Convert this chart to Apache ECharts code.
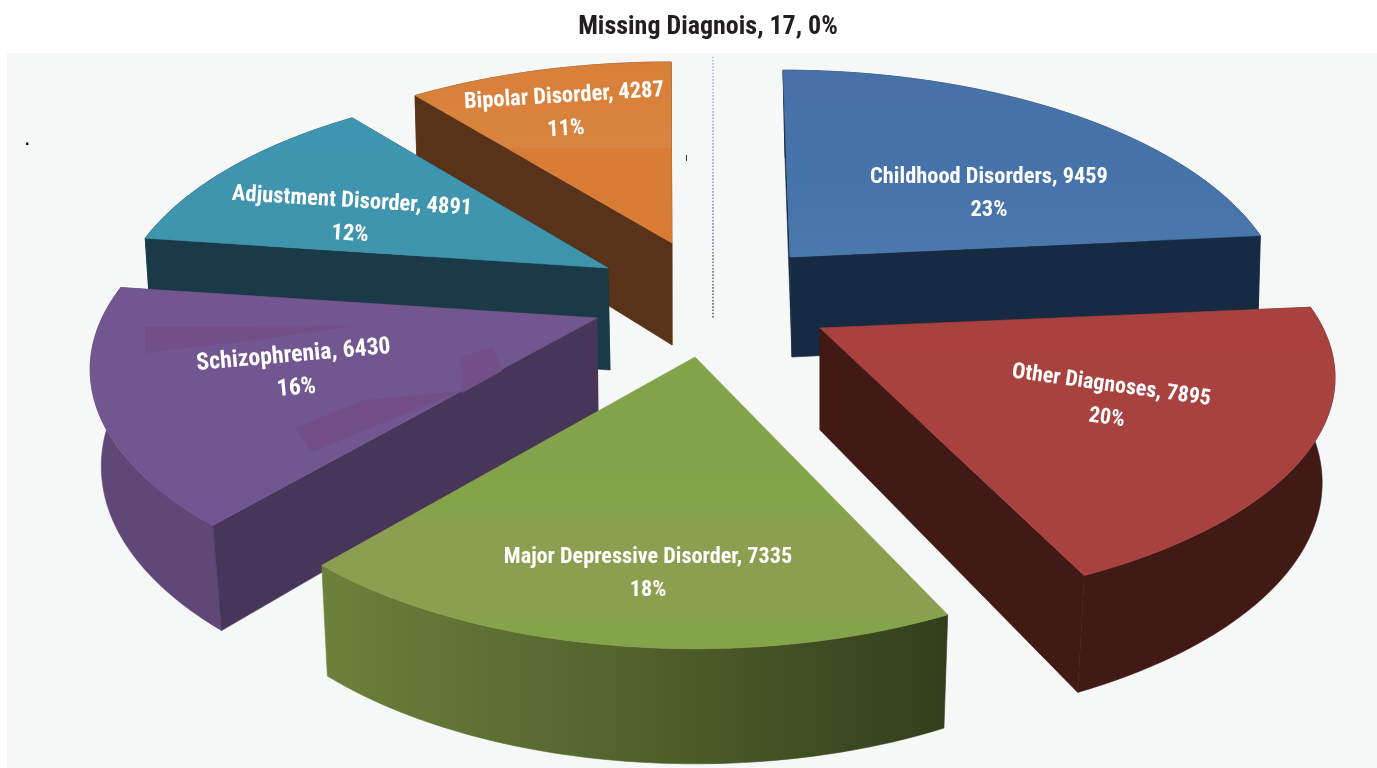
<!DOCTYPE html>
<html>
<head>
<meta charset="utf-8">
<style>html,body{margin:0;padding:0;background:#fff}#c{width:1377px;height:768px}</style>
<script src="https://cdn.jsdelivr.net/npm/echarts@6/dist/echarts.min.js"></script>
</head>
<body>
<div id="c"></div>
<script>
// Data
const categories = ['Childhood Disorders','Other Diagnoses','Major Depressive Disorder','Schizophrenia','Adjustment Disorder','Bipolar Disorder','Missing Diagnois'];
const seriesValues = [9459,7895,7335,6430,4891,4287,17];

// Geometry of each exploded slice (apex, radii, extrusion depth, shear), separate from the data
const K = 0.215, KD = 0.14;
const sliceGeom = [
  {ax:790,ay:257,R:483,S:227,D:100,sh:-7,bx:2},
  {ax:820,ay:328,R:503,S:220,D:102,sh:0,bx:0,rb:0.975},
  {ax:695,ay:357,R:481,S:229,D:99,sh:0,bx:0,rb:0.985},
  {ax:597,ay:318,R:495,S:228,D:94,sh:0,bx:1,rb:0.98},
  {ax:608,ay:268,R:481,S:224,D:102,sh:0,bx:2},
  {ax:672,ay:243,R:483,S:220,D:102,sh:0,bx:0},
  {ax:713,ay:218,R:480,S:196,D:100,sh:0,bx:0}
];
const sliceStyle = [
  {top:[[0,'#4672a8'],[0.62,'#4673a9'],[1,'#4a79ae']],rim:'#172a43',face:'#172a43',z:2},
  {top:[[0,'#a9423f'],[1,'#a8423f']],rim:'#411a16',face:'#411a16',z:5},
  {top:[[0,'#83a34a'],[0.52,'#84a44a'],[0.6,'#8c9f50'],[0.85,'#8c9f50'],[0.92,'#84a44a'],[1,'#84a44a']],
   rim:[[0,'#6c813b'],[0.5,'#51622c'],[1,'#323e1b']],face:null,z:6},
  {top:[[0,'#735690'],[1,'#705690']],rim:'#5f4877',face:'#47365a',z:4},
  {top:[[0,'#3f96b0'],[1,'#3f94ad']],rim:'#193a46',face:'#193a46',z:3},
  {top:[[0,'#d97f38'],[0.47,'#d8853f'],[0.48,'#d97c35'],[1,'#d97c35']],rim:'#59321a',face:'#59321a',z:1}
];
const labelLayout = [
  {x:989,y:194,rot:0,size:22.4},
  {x:1109,y:402,rot:-8,size:22},
  {x:648,y:574,rot:0,size:22.2},
  {x:295,y:372,rot:5,size:23.8},
  {x:351,y:218,rot:-3.5,size:22.6},
  {x:565,y:113,rot:3.5,size:22.5}
];

const total = seriesValues.reduce((a,b)=>a+b,0);
const startAngles = [];
seriesValues.reduce((acc,v,i)=>{startAngles[i]=acc;return acc+v/total*Math.PI*2;},0);

function topPt(g,t,r){
  const u=Math.sin(t)*r, v=Math.cos(t)*r, d=1+K*v;
  return [g.ax+g.R*u/d+g.sh*v, g.ay-g.S*v/d];
}
function botPt(g,t,r){
  const u=Math.sin(t)*r, v=Math.cos(t)*r, d=1+K*v, rb=g.rb||0.99;
  return [g.ax+g.bx+g.R*rb*u/d+g.sh*v, g.ay+g.D/(1+KD*v)-g.S*v/d];
}
const lin=(stops,x,y,x2,y2)=>new echarts.graphic.LinearGradient(x,y,x2,y2,stops.map(s=>({offset:s[0],color:s[1]})));

function renderSlice(params,api){
  const i=params.dataIndex, val=api.value(0);
  const g=sliceGeom[i], t0=startAngles[i], t1=t0+val/total*Math.PI*2;
  if(i===6){
    const a=topPt(g,t1,1), b=botPt(g,t1,0);
    return {type:'line',shape:{x1:a[0],y1:a[1],x2:b[0],y2:b[1]},
      style:{stroke:lin([[0,'#b4c2e2'],[0.5,'#8f98b8'],[1,'#565a70']],0,0,0,1),lineWidth:1.6,lineDash:[1.6,1.6]},silent:true};
  }
  const st=sliceStyle[i], n=48, arcT=[], arcB=[];
  for(let k=0;k<=n;k++){const t=t0+(t1-t0)*k/n;arcT.push(topPt(g,t,1));arcB.push(botPt(g,t,1));}
  const ap=topPt(g,t0,0), bp=botPt(g,t0,0);
  const rimFill=Array.isArray(st.rim)?lin(st.rim,0,0,1,0):st.rim;
  const z2base=st.z*10;
  const poly=(pts,fill,dz)=>({type:'polygon',shape:{points:pts},style:{fill:fill,stroke:fill,lineWidth:0.6},z2:z2base+dz,silent:true});
  const children=[poly(arcT.concat(arcB.slice().reverse()),rimFill,0)];
  if(st.face){
    children.push(poly([ap,arcT[0],arcB[0],bp],st.face,1));
    children.push(poly([ap,arcT[n],arcB[n],bp],st.face,1));
  }
  children.push(poly([ap].concat(arcT),lin(st.top,0,0,0,1),2));
  return {type:'group',children:children};
}
function renderLabel(params,api){
  const i=params.dataIndex, val=api.value(0), L=labelLayout[i];
  if(!L) return null;
  const pct=Math.round(val/total*100);
  return {type:'text',x:L.x,y:L.y,rotation:L.rot*Math.PI/180,silent:true,
    style:{text:categories[i]+', '+val+'\n'+pct+'%',x:0,y:0,align:'center',verticalAlign:'middle',
      fill:'#fff',font:'bold '+L.size+'px "Roboto Condensed","Liberation Sans Narrow",Roboto',lineHeight:33}};
}
const chart=echarts.init(document.getElementById('c'),null,{renderer:'canvas'});
const dataItems=seriesValues.map((v,i)=>({name:categories[i],value:v}));
chart.setOption({
  animation:false,
  backgroundColor:'#fff',
  title:{text:categories[6]+', '+seriesValues[6]+', '+Math.round(seriesValues[6]/total*100)+'%',left:703,top:9,textAlign:'center',
    textStyle:{color:'#231f20',fontFamily:'"Roboto Condensed","Liberation Sans Narrow",Roboto',fontWeight:'bold',fontSize:26}},
  graphic:[
    {type:'rect',z:-1,silent:true,shape:{x:7,y:53,width:1370,height:715},style:{fill:'#f6f8f7'}},
    {type:'polygon',z:3,silent:true,shape:{points:[[145,327],[355,326],[240,342],[145,353]]},style:{fill:'#734f88'}},
    {type:'polygon',z:3,silent:true,shape:{points:[[460,357],[493,347],[502,371],[462,393]]},style:{fill:'#734f88'}},
    {type:'polygon',z:3,silent:true,shape:{points:[[295,428],[365,400],[460,391],[312,452]]},style:{fill:'#734f88'}},
    {type:'text',z:3,silent:true,x:25,y:133,style:{text:'.',fill:'#000',font:'bold 16px "Liberation Sans"'}},
    {type:'rect',z:3,silent:true,shape:{x:686,y:155,width:1,height:6},style:{fill:'#333'}}
  ],
  series:[
    {type:'custom',coordinateSystem:'none',z:2,silent:true,renderItem:renderSlice,data:dataItems},
    {type:'custom',coordinateSystem:'none',z:5,silent:true,renderItem:renderLabel,data:dataItems}
  ]
});
</script>
</body>
</html>
